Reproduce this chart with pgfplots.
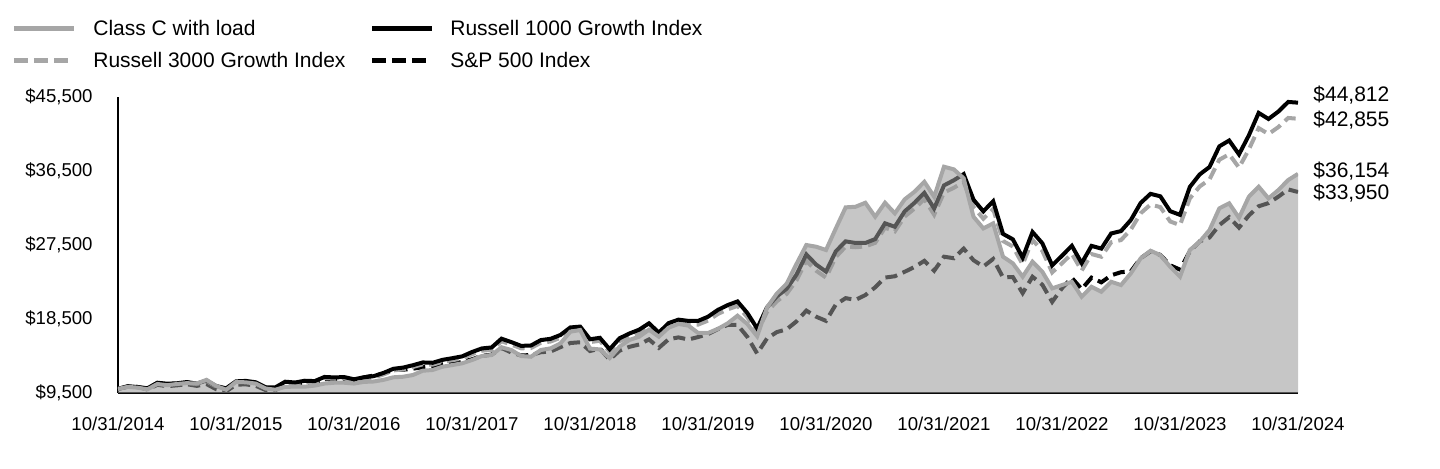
\documentclass[border=0pt]{standalone}
\usepackage{pgfplots}
\pgfplotsset{compat=1.18}
\usepackage{pgfplotstable}
\usepackage{fontspec}
\setmainfont{Liberation Sans}
\definecolor{lgray}{HTML}{A6A6A6}
\definecolor{areagray}{HTML}{999999}

\pgfplotstableread{
i c r1 r3 sp
0 10000 10000 10000 10000
1 10250 10330 10324 10270
2 10150 10227 10214 10239
3 9950 10074 10055 9932
4 10600 10749 10722 10498
5 10450 10631 10598 10330
6 10600 10684 10644 10433
7 10700 10834 10787 10569
8 10650 10639 10586 10368
9 11100 11011 10949 10586
10 10350 10339 10274 9951
11 9900 10071 10002 9702
12 10850 10918 10836 10517
13 10800 10972 10883 10549
14 10650 10807 10712 10380
15 10050 10202 10106 9861
16 9900 10182 10080 9851
17 10250 10874 10759 10521
18 10270 10776 10655 10563
19 10270 10992 10862 10753
20 10400 10948 10811 10785
21 10650 11452 11302 11184
22 10750 11395 11238 11195
23 10750 11440 11276 11195
24 10650 11167 10999 10994
25 10850 11412 11238 11401
26 10900 11549 11369 11629
27 11100 11942 11753 11850
28 11410 12443 12243 12324
29 11480 12592 12386 12336
30 11690 12882 12667 12460
31 12210 13217 12993 12634
32 12300 13177 12950 12710
33 12700 13533 13296 12977
34 12900 13736 13492 13016
35 13110 13956 13704 13289
36 13510 14485 14220 13595
37 14000 14920 14642 14016
38 14120 15039 14755 14170
39 15060 16107 15798 14978
40 14730 15688 15383 14424
41 14000 15233 14933 14063
42 13910 15279 14973 14119
43 14730 15936 15613 14458
44 14930 16095 15764 14545
45 15540 16562 16217 15083
46 16960 17473 17104 15581
47 17160 17578 17202 15674
48 14900 16036 15689 14608
49 14800 16212 15856 14900
50 13750 14818 14489 13559
51 15130 16152 15789 14644
52 15950 16733 16352 15113
53 16350 17202 16805 15400
54 17200 17976 17557 16016
55 16350 16844 16446 14991
56 17450 18006 17576 16040
57 17900 18420 17975 16265
58 17700 18273 17826 16005
59 16800 18273 17821 16309
60 16800 18778 18309 16668
61 17300 19604 19106 17268
62 17970 20192 19670 17786
63 18900 20636 20094 17786
64 17900 19233 18720 16328
65 16400 17348 16878 14303
66 19900 19916 19368 16134
67 21600 21250 20657 16908
68 22800 22185 21557 17246
69 25200 23893 23206 18212
70 27500 26354 25585 19523
71 27290 25115 24372 18781
72 26890 24265 23537 18274
73 29520 26740 26038 20266
74 32080 27943 27314 21036
75 32150 27747 27227 20826
76 32640 27747 27331 21409
77 30940 28219 27760 22351
78 32640 30138 29611 23536
79 31350 29716 29159 23700
80 33050 31588 30956 24245
81 33980 32630 31937 24827
82 35190 33838 33077 25572
83 33370 31943 31184 24370
84 37020 34750 33881 26076
85 36700 35376 34462 25893
86 35610 36119 35156 27058
87 30940 33013 32105 25651
88 29520 31594 30699 24882
89 30130 32826 31868 25803
90 26080 28854 27988 23558
91 25270 28190 27321 23605
92 23650 25963 25141 21646
93 25470 29079 28134 23637
94 24250 27712 26788 22668
95 22230 25024 24169 20583
96 22630 26201 25284 22250
97 23030 27405 26434 23496
98 21210 25295 24389 22133
99 22420 27394 26401 23527
100 21820 27066 26073 22962
101 23030 28906 27834 23812
102 22630 29195 28100 24193
103 24050 30538 29380 24290
104 25880 32615 31365 25893
105 26800 33724 32417 26722
106 26280 33420 32111 26294
107 24860 31615 30364 25032
108 23650 31166 29919 24506
109 26890 34562 33169 26736
110 27900 36083 34617 27939
111 29320 36985 35471 28414
112 31960 39500 37871 29920
113 32570 40211 38540 30877
114 30800 38522 36910 29611
115 33370 40833 39111 31092
116 34590 43569 41718 32211
117 33170 42828 40995 32598
118 34180 43727 41842 33380
119 35400 44900 42951 34260
120 36154 44812 42855 33950
}\data

\begin{document}
\begin{tikzpicture}
\useasboundingbox (-59pt,-37.5pt) rectangle (661pt,196.5pt);
\begin{axis}[
  at={(0,0)}, anchor=south west,
  scale only axis, width=590pt, height=148pt,
  xmin=0, xmax=120, ymin=9500, ymax=45500,
  axis x line=bottom, axis y line=left,
  axis line style={-, line width=1pt, black},
  scaled y ticks=false, scaled x ticks=false,
  xtick={0,12,...,120},
  xticklabels={10/31/2014,10/31/2015,10/31/2016,10/31/2017,10/31/2018,10/31/2019,10/31/2020,10/31/2021,10/31/2022,10/31/2023,10/31/2024},
  ytick={9500,18500,27500,36500,45500},
  yticklabels={{\$9,500},{\$18,500},{\$27,500},{\$36,500},{\$45,500}},
  major tick length=0pt,
  tick label style={font=\fontsize{9.3pt}{11pt}\selectfont},
  yticklabel style={inner sep=0pt, xshift=-12.5pt},
  xticklabel style={inner sep=0pt, yshift=-12pt},
  clip=true,
]
\addplot[black, line width=2pt, dash pattern=on 6pt off 3pt] table[x=i,y=sp]{\data};
\addplot[lgray, line width=2pt, dash pattern=on 6pt off 3pt] table[x=i,y=r3]{\data};
\addplot[black, line width=2pt] table[x=i,y=r1]{\data};
\addplot[draw=none, fill=areagray, fill opacity=0.56] table[x=i,y=c]{\data} \closedcycle;
\addplot[lgray, line width=2pt] table[x=i,y=c]{\data};
\end{axis}
% legend
\begin{scope}[every node/.style={anchor=west, inner sep=0pt, font=\fontsize{10.5pt}{12pt}\selectfont}]
\draw[lgray, line width=2.5pt] (-52pt,182.5pt) -- (-22pt,182.5pt);
\node at (-12.5pt,182.5pt) {Class C with load};
\draw[black, line width=2.5pt] (127pt,182.5pt) -- (157pt,182.5pt);
\node at (166pt,182.5pt) {Russell 1000 Growth Index};
\draw[lgray, line width=2.5pt, dash pattern=on 7pt off 3pt] (-52pt,166.5pt) -- (-22pt,166.5pt);
\node at (-12.5pt,166.5pt) {Russell 3000 Growth Index};
\draw[black, line width=2.5pt, dash pattern=on 7pt off 3pt] (127pt,166.5pt) -- (157pt,166.5pt);
\node at (166pt,166.5pt) {S\&P 500 Index};
% end labels
\node at (597.5pt,149pt) {\$44,812};
\node at (597.5pt,136.5pt) {\$42,855};
\node at (597.5pt,111pt) {\$36,154};
\node at (597.5pt,100pt) {\$33,950};
\end{scope}
\end{tikzpicture}
\end{document}
